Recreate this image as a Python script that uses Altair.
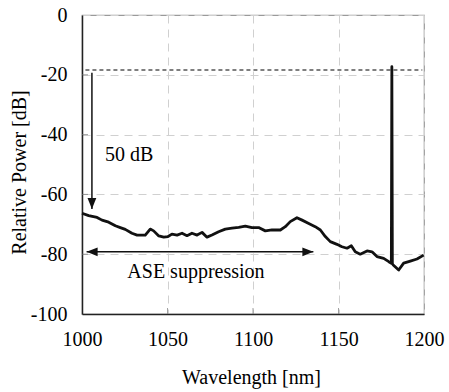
import altair as alt
import pandas as pd

# --- spectrum ---
wavelength = [1000.0, 1003.9, 1008.8, 1011.7, 1015.6, 1019.5, 1022.4, 1025.3, 1029.2, 1032.2,
              1037.0, 1039.9, 1041.9, 1044.9, 1047.8, 1050.3, 1052.6, 1055.6, 1058.5, 1061.4,
              1064.3, 1067.3, 1070.2, 1073.1, 1076.0, 1079.9, 1083.8, 1087.7, 1091.6, 1095.5,
              1099.4, 1103.3, 1107.2, 1111.1, 1116.0, 1118.9, 1121.8, 1125.7, 1128.7, 1132.6,
              1136.4, 1139.4, 1142.3, 1145.2, 1149.1, 1152.0, 1155.0, 1157.5, 1159.8, 1162.7,
              1166.7, 1169.6, 1172.5, 1176.4, 1179.4, 1180.9, 1181.2, 1181.5, 1182.0, 1185.2,
              1188.1, 1192.0, 1195.9, 1199.8]
power = [-66.3, -67.1, -67.7, -68.6, -69.3, -70.5, -71.1, -71.7, -73.0, -73.6,
         -73.6, -71.6, -72.2, -73.9, -74.3, -74.1, -73.3, -73.6, -73.0, -73.8,
         -73.0, -73.6, -72.7, -74.3, -73.6, -72.5, -71.6, -71.3, -71.0, -70.6,
         -71.1, -71.1, -72.2, -71.9, -71.9, -70.8, -69.1, -67.8, -68.6, -69.7,
         -70.8, -71.9, -74.1, -75.8, -76.7, -77.5, -78.0, -77.2, -79.2, -80.0,
         -78.9, -79.2, -80.8, -81.4, -82.5, -83.0, -17.3, -83.2, -83.6, -85.3,
         -83.0, -82.3, -81.6, -80.3]

x_ticks = [1000, 1050, 1100, 1150, 1200]
y_ticks = [0, -20, -40, -60, -80, -100]

# --- annotations ---
ref_x = [1002.0, 1199.0]
ref_level = [-18.4, -18.4]

drop_x = [1005.8, 1005.8]
drop_y = [-19.3, -64.9]

ase_x = [1002.7, 1135.3]
ase_y = [-79.2, -79.2]

label_text = ["50 dB", "ASE suppression"]
label_x = [1013.5, 1026.5]
label_y = [-46.8, -86.0]

FONT = "Liberation Serif"

spec = pd.DataFrame({"x": wavelength, "y": power})
ref_df = pd.DataFrame({"x": ref_x, "y": ref_level})
drop_df = pd.DataFrame({"x": [drop_x[0]], "y": [drop_y[0]], "y2": [drop_y[1]]})
ase_df = pd.DataFrame({"x": [ase_x[0]], "x2": [ase_x[1]], "y": [ase_y[0]]})
down_head = pd.DataFrame({"x": [drop_x[1]], "y": [drop_y[1]]})
left_head = pd.DataFrame({"x": [ase_x[0]], "y": [ase_y[0]]})
right_head = pd.DataFrame({"x": [ase_x[1]], "y": [ase_y[1]]})
text_df = pd.DataFrame({"x": label_x, "y": label_y, "t": label_text})
xt_df = pd.DataFrame({"x": x_ticks[1:-1], "y": [-100] * 3})
yt_df = pd.DataFrame({"x": [1000] * 4, "y": y_ticks[1:-1]})

xscale = alt.Scale(domain=[1000, 1200], nice=False, zero=False)
yscale = alt.Scale(domain=[-100, 0], nice=False, zero=False)

xaxis = alt.Axis(values=x_ticks, title="Wavelength [nm]", labelFont=FONT, labelFontSize=20,
                 labelColor="black", labelPadding=15, ticks=False, domainColor="#222",
                 domainWidth=1.5, grid=True, gridColor="#d0d0d0", gridDash=[8, 6],
                 labelExpr="datum.value + ''",
                 titleFont=FONT, titleFontSize=20, titleFontWeight="normal", titleColor="black",
                 titleX=169, titleY=63, titleBaseline="middle", labelFlush=False)
yaxis = alt.Axis(values=y_ticks, title="Relative Power [dB]", labelFont=FONT, labelFontSize=20,
                 labelColor="black", labelPadding=15, ticks=False, domainColor="#222",
                 domainWidth=1.5, grid=True, gridColor="#d0d0d0", gridDash=[8, 6],
                 labelExpr="datum.value + ''",
                 titleFont=FONT, titleFontSize=20, titleFontWeight="normal", titleColor="black",
                 titleX=-63, titleY=157, titleAngle=-90, titleBaseline="middle", labelFlush=False)

X = alt.X("x:Q", scale=xscale, axis=xaxis)
Y = alt.Y("y:Q", scale=yscale, axis=yaxis)

line = alt.Chart(spec).mark_line(color="#111", strokeWidth=2.8, strokeJoin="round").encode(x=X, y=Y)

ref = alt.Chart(ref_df).mark_line(color="#555", strokeWidth=1.5, strokeDash=[4, 3]).encode(x=X, y=Y)

drop = alt.Chart(drop_df).mark_rule(color="#111", strokeWidth=1.5).encode(x=X, y=Y, y2="y2:Q")
ase = alt.Chart(ase_df).mark_rule(color="#111", strokeWidth=1.5).encode(x=X, x2="x2:Q", y=Y)

def head(df, path):
    return alt.Chart(df).mark_point(shape=path, size=484, filled=True, opacity=1,
                                    color="#111", strokeWidth=0).encode(x=X, y=Y)

h1 = head(down_head, "M0,0L-0.4,-1L0.4,-1Z")
h2 = head(left_head, "M0,0L1,-0.4L1,0.4Z")
h3 = head(right_head, "M0,0L-1,-0.4L-1,0.4Z")

txt = alt.Chart(text_df).mark_text(font=FONT, fontSize=20, align="left", baseline="middle",
                                   color="black").encode(x=X, y=Y, text="t:N")

xt = alt.Chart(xt_df).mark_tick(color="#777", size=6, thickness=1, yOffset=-3,
                                orient="vertical").encode(x=X, y=Y)
yt = alt.Chart(yt_df).mark_tick(color="#777", size=6, thickness=1, xOffset=3,
                                orient="horizontal").encode(x=X, y=Y)

chart = alt.layer(xt, yt, ref, line, drop, ase, h1, h2, h3, txt).properties(
    width=342, height=299,
    autosize=alt.AutoSizeParams(type="none"),
    padding={"left": 82, "top": 15, "right": 25, "bottom": 78},
    background="white",
).configure_view(stroke="#9a9a9a", strokeWidth=1.2)

chart.save("out.html", embed_options={"renderer": "svg", "actions": False})
